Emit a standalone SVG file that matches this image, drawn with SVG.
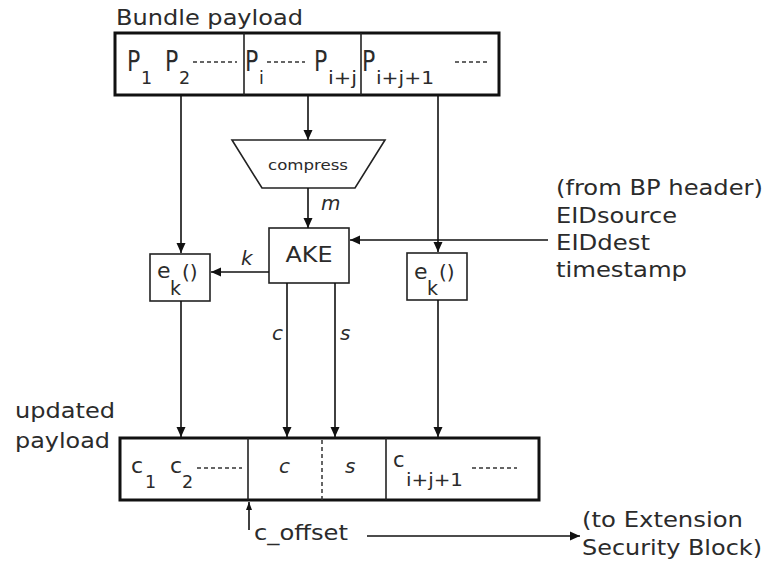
<svg xmlns="http://www.w3.org/2000/svg" width="766" height="567" viewBox="0 0 766 567">
<defs>
<marker id="ah" markerUnits="userSpaceOnUse" markerWidth="10" markerHeight="10" refX="10" refY="5" orient="auto"><path d="M0,0.5 L10,5 L0,9.5 z" fill="#111"/></marker>
<marker id="ahs" markerUnits="userSpaceOnUse" markerWidth="8" markerHeight="6" refX="8" refY="3" orient="auto"><path d="M0,0 L8,3 L0,6 z" fill="#111"/></marker>
<style>
text{font-family:"DejaVu Sans","Liberation Sans",sans-serif;fill:#2b2b2b}
.lbl{font-size:20.5px}
.it{font-size:20px;font-style:italic}
.big{font-size:22px}
.sub{font-size:17.5px}
.frame{fill:#fff;stroke:#111;stroke-width:3}
.box{fill:#fff;stroke:#222;stroke-width:1.6}
.div{stroke:#222;stroke-width:1.6}
.dots{stroke:#333;stroke-width:1.5;stroke-dasharray:4 3}
.con{fill:none;stroke:#111;stroke-width:1.6}
</style>
</defs>
<rect width="766" height="567" fill="#fff"/>

<g id="bundle-payload">
<text class="lbl" x="116" y="25" textLength="187" lengthAdjust="spacingAndGlyphs">Bundle payload</text>
<rect class="frame" x="115" y="33" width="384" height="62"/>
<line class="div" x1="244" y1="33" x2="244" y2="95"/>
<line class="div" x1="361" y1="33" x2="361" y2="95"/>
<text class="big" transform="translate(127,71) scale(1,1.27)">P</text><text class="sub" x="141" y="84">1</text>
<text class="big" transform="translate(165,71) scale(1,1.27)">P</text><text class="sub" x="179" y="84">2</text>
<line class="dots" x1="193" y1="62" x2="237" y2="62"/>
<text class="big" transform="translate(245,71) scale(1,1.27)">P</text><text class="sub" x="259" y="84">i</text>
<line class="dots" x1="267" y1="62" x2="305" y2="62"/>
<text class="big" transform="translate(314,71) scale(1,1.27)">P</text><text class="sub" x="328" y="84" textLength="29" lengthAdjust="spacingAndGlyphs">i+j</text>
<text class="big" transform="translate(362,71) scale(1,1.27)">P</text><text class="sub" x="376" y="84" textLength="58" lengthAdjust="spacingAndGlyphs">i+j+1</text>
<line class="dots" x1="455" y1="62" x2="488" y2="62"/>
</g>

<g id="compress">
<polygon class="box" points="232,140 385,140 355,188 262,188"/>
<text x="308" y="170" font-size="14" text-anchor="middle" textLength="80" lengthAdjust="spacingAndGlyphs">compress</text>
</g>

<g id="ake">
<rect class="box" x="269" y="228" width="80" height="55"/>
<text class="lbl" x="309" y="262" text-anchor="middle" textLength="47" lengthAdjust="spacingAndGlyphs">AKE</text>
</g>

<g id="ek-left">
<rect class="box" x="150" y="254" width="60" height="47"/>
<text x="157" y="278" font-size="22">e</text><text x="170" y="295" font-size="19">k</text><text x="182" y="279" font-size="20">()</text>
</g>

<g id="ek-right">
<rect class="box" x="407" y="253" width="60" height="47"/>
<text x="414" y="279" font-size="22">e</text><text x="427" y="295" font-size="19">k</text><text x="439" y="279" font-size="20">()</text>
</g>

<g id="bp-header">
<text class="lbl" x="556" y="195" textLength="207" lengthAdjust="spacingAndGlyphs">(from BP header)</text>
<text class="lbl" x="556" y="223" textLength="121" lengthAdjust="spacingAndGlyphs">EIDsource</text>
<text class="lbl" x="556" y="250" textLength="94" lengthAdjust="spacingAndGlyphs">EIDdest</text>
<text class="lbl" x="556" y="277" textLength="131" lengthAdjust="spacingAndGlyphs">timestamp</text>
</g>

<g id="updated-payload">
<text class="lbl" x="15" y="418" textLength="100" lengthAdjust="spacingAndGlyphs">updated</text>
<text class="lbl" x="15" y="448" textLength="95" lengthAdjust="spacingAndGlyphs">payload</text>
<rect class="frame" x="120" y="438" width="419" height="62"/>
<line class="div" x1="248" y1="438" x2="248" y2="500"/>
<line class="dots" x1="322" y1="440" x2="322" y2="500"/>
<line class="div" x1="386" y1="438" x2="386" y2="500"/>
<text x="131" y="473" font-size="22">c</text><text class="sub" x="145" y="488">1</text>
<text x="170" y="473" font-size="22">c</text><text class="sub" x="182" y="488">2</text>
<line class="dots" x1="197" y1="468" x2="242" y2="468"/>
<text class="it" x="279" y="473">c</text>
<text class="it" x="345" y="473">s</text>
<text x="393" y="467" font-size="21">c</text><text class="sub" x="406" y="486" textLength="57" lengthAdjust="spacingAndGlyphs">i+j+1</text>
<line class="dots" x1="472" y1="468" x2="517" y2="468"/>
</g>

<g id="esb">
<text class="lbl" x="254" y="540" textLength="94" lengthAdjust="spacingAndGlyphs">c_offset</text>
<text class="lbl" x="582" y="527" textLength="161" lengthAdjust="spacingAndGlyphs">(to Extension</text>
<text class="lbl" x="582" y="555" textLength="180" lengthAdjust="spacingAndGlyphs">Security Block)</text>
</g>

<g id="connectors">
<line class="con" x1="181" y1="96" x2="181" y2="253" marker-end="url(#ah)"/>
<line class="con" x1="308" y1="96" x2="308" y2="140" marker-end="url(#ah)"/>
<line class="con" x1="438" y1="96" x2="438" y2="252" marker-end="url(#ah)"/>
<line class="con" x1="308" y1="188" x2="308" y2="228" marker-end="url(#ah)"/>
<line class="con" x1="548" y1="240" x2="350" y2="240" marker-end="url(#ah)"/>
<line class="con" x1="269" y1="272" x2="211" y2="272" marker-end="url(#ah)"/>
<line class="con" x1="181" y1="301" x2="181" y2="437" marker-end="url(#ah)"/>
<line class="con" x1="438" y1="300" x2="438" y2="437" marker-end="url(#ah)"/>
<line class="con" x1="287" y1="283" x2="287" y2="437" marker-end="url(#ah)"/>
<line class="con" x1="335" y1="283" x2="335" y2="437" marker-end="url(#ah)"/>
<line class="con" x1="249" y1="530" x2="249" y2="502" marker-end="url(#ahs)"/>
<line class="con" x1="367" y1="536" x2="580" y2="536" marker-end="url(#ah)"/>
<text class="it" x="321" y="210">m</text>
<text class="it" x="241" y="265">k</text>
<text class="it" x="272" y="340">c</text>
<text class="it" x="340" y="340">s</text>
</g>
</svg>
